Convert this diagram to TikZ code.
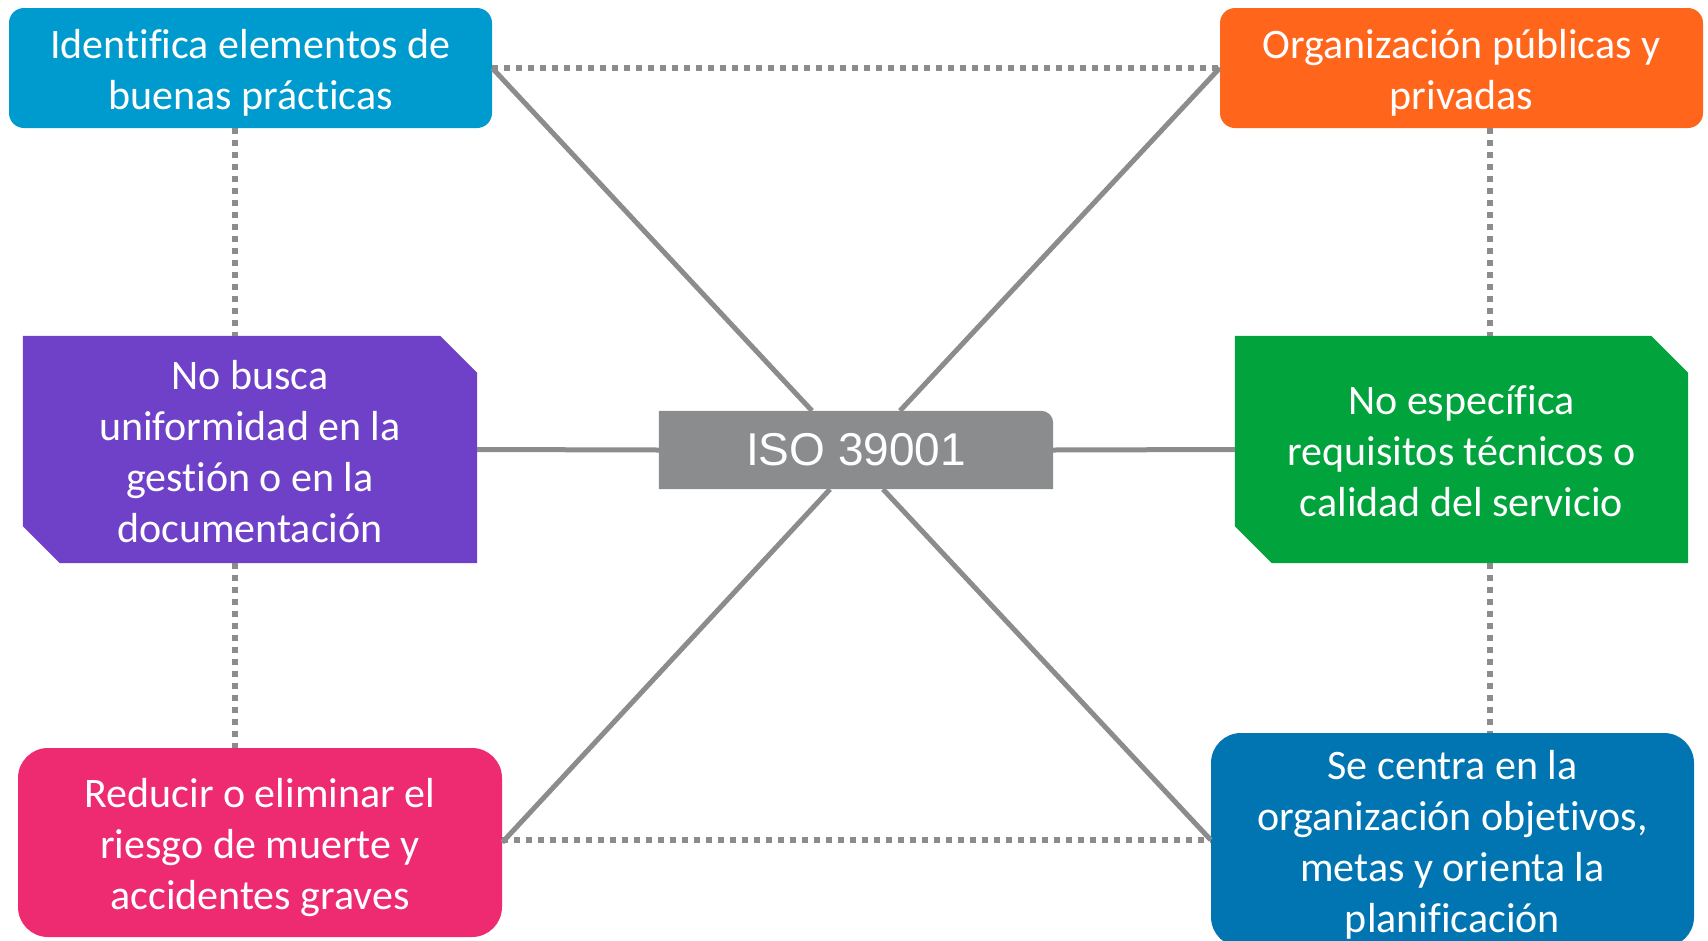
\documentclass[tikz,border=0pt]{standalone}
\usepackage{fontspec}
\setmainfont{Carlito}[Ligatures=CommonOff]
\newfontfamily\isofont{Liberation Sans}
\usetikzlibrary{
    backgrounds,
}

\definecolor{ideablue}{HTML}{009BCE}
\definecolor{orgorange}{HTML}{FF661C}
\definecolor{nbpurple}{HTML}{6E41C8}
\definecolor{negreen}{HTML}{00A33C}
\definecolor{redpink}{HTML}{EE2B70}
\definecolor{centblue}{HTML}{0075B2}
\definecolor{isogray}{HTML}{8B8C8E}
\definecolor{linegray}{HTML}{8C8C8C}

% fill a box with two cut corners (north east, south west)
\newcommand\cutfill[3]{%
  \fill[#2] (#1.north west) -- ([xshift=-#3]#1.north east)
    -- ([yshift=-#3]#1.north east) -- (#1.south east)
    -- ([xshift=#3]#1.south west) -- ([yshift=#3]#1.south west) -- cycle;}

\begin{document}
\begin{tikzpicture}[x=1pt,y=-1pt,
    box/.style={text=white, align=center, inner sep=0pt,
      font=\fontsize{42}{51}\selectfont, text depth=0pt, text height=#1},
    roundbox/.style={box=#1, rectangle},
    cutbox/.style={box=#1, rectangle},
    link/.style={draw=linegray, line width=5pt},
    dotlink/.style={draw=linegray, line width=6pt, dash pattern=on 6pt off 6pt}]
  \useasboundingbox (0,0) rectangle (1708,940);
  \clip (0,0) rectangle (1708,940);

  % centre
  \node[text=white, inner sep=0pt, minimum width=394pt, minimum height=78pt,
    font=\isofont\fontsize{46}{50}\selectfont] (iso) at (856,450) {ISO 39001};

  % corner boxes
  \node[roundbox=83pt, rounded corners=15pt, fill=ideablue,
    minimum width=483pt, minimum height=120pt]
    (idea) at (250.5,68) {Identifica elementos de\\buenas prácticas};
  \node[roundbox=83pt, rounded corners=15pt, fill=orgorange,
    minimum width=483pt, minimum height=120pt]
    (org) at (1461.5,68) {Organización públicas y\\privadas};
  \node[cutbox=185pt, minimum width=454pt, minimum height=227pt]
    (nobusca) at (250,449.5) {No busca\\uniformidad en la\\gestión o en la\\documentación};
  \node[cutbox=134pt, minimum width=453pt, minimum height=227pt]
    (noespec) at (1461.5,449.5) {No específica\\requisitos técnicos o\\calidad del servicio};
  \node[roundbox=134pt, rounded corners=30pt, fill=redpink,
    minimum width=484pt, minimum height=189pt]
    (reduce) at (260,842.5) {Reducir o eliminar el\\riesgo de muerte y\\accidentes graves};
  \node[roundbox=185pt, rounded corners=30pt, fill=centblue,
    minimum width=483pt, minimum height=214pt]
    (centra) at (1452.5,840) {Se centra en la\\organización objetivos,\\metas y orienta la\\planificación};

  \begin{scope}[on background layer]
    \fill[isogray] (iso.south west) -- (iso.north west)
      -- ([xshift=-12pt]iso.north east) arc[start angle=90, end angle=0, radius=12pt]
      -- (iso.south east) -- cycle;
    \cutfill{nobusca}{nbpurple}{37pt}
    \cutfill{noespec}{negreen}{37pt}
  \end{scope}

  % solid links to the centre
  \draw[link] (idea.east) -- ([xshift=-44pt]iso.north);
  \draw[link] (org.west) -- ([xshift=44pt]iso.north);
  \draw[link] (reduce.east) -- ([xshift=-26pt]iso.south);
  \draw[link] (centra.west) -- ([xshift=27pt]iso.south);
  \draw[link] (nobusca.east) -- (iso.west);
  \draw[link] (iso.east) -- (noespec.west);

  % dotted frame
  \coordinate (lx) at (235,0);
  \coordinate (rx) at (1490,0);
  \draw[dotlink] (idea.east) -- (org.west);
  \draw[dotlink] (reduce.east |- centra.west) -- (centra.west);
  \draw[dotlink] (idea.south -| lx) -- (nobusca.north -| lx);
  \draw[dotlink] (nobusca.south -| lx) -- (reduce.north -| lx);
  \draw[dotlink] (org.south -| rx) -- (noespec.north -| rx);
  \draw[dotlink] (noespec.south -| rx) -- (centra.north -| rx);
\end{tikzpicture}
\end{document}
